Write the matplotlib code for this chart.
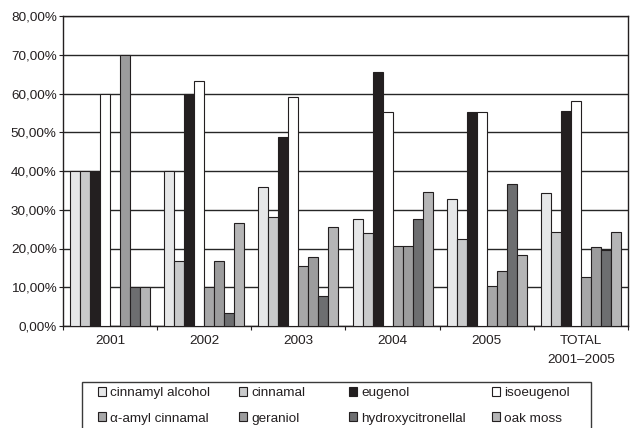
import matplotlib
matplotlib.use("Agg")
import matplotlib.pyplot as plt
import numpy as np
from matplotlib.patches import Rectangle
from matplotlib.ticker import FuncFormatter, MultipleLocator

plt.rcParams['font.family'] = ['Liberation Sans', 'DejaVu Sans']

categories = ['2001', '2002', '2003', '2004', '2005', 'TOTAL\n2001\u20132005']
series_names = ['cinnamyl alcohol', 'cinnamal', 'eugenol', 'isoeugenol',
                '\u03b1-amyl cinnamal', 'geraniol', 'hydroxycitronellal', 'oak moss']
cinnamyl_alcohol = [40.0, 40.0, 35.9, 27.6, 32.7, 34.4]
cinnamal = [40.0, 16.7, 28.2, 24.1, 22.4, 24.2]
eugenol = [40.0, 60.0, 48.7, 65.5, 55.1, 55.4]
isoeugenol = [60.0, 63.3, 59.0, 55.2, 55.1, 58.0]
amyl_cinnamal = [0.0, 10.0, 15.4, 20.7, 10.2, 12.7]
geraniol = [70.0, 16.7, 17.9, 20.7, 14.3, 20.4]
hydroxycitronellal = [10.0, 3.3, 7.7, 27.6, 36.7, 19.7]
oak_moss = [10.0, 26.7, 25.6, 34.5, 18.4, 24.2]
series_values = [cinnamyl_alcohol, cinnamal, eugenol, isoeugenol,
                 amyl_cinnamal, geraniol, hydroxycitronellal, oak_moss]
colors = ['#e6e7e8', '#c9cacb', '#231f20', '#ffffff',
          '#a7a7a8', '#9c9c9d', '#6d6e70', '#b5b5b6']

W, H = 632, 428
fig = plt.figure(figsize=(W / 100, H / 100), dpi=100)
ax = fig.add_axes([63 / W, 1 - 326 / H, (628 - 63) / W, (326 - 16) / H])

x = np.arange(len(categories))
bw = 0.106
handles = []
for j, (name, vals, c) in enumerate(zip(series_names, series_values, colors)):
    b = ax.bar(x + (j - 3.5) * bw, vals, width=bw, color=c,
               edgecolor='#231f20', linewidth=0.8, label=name, zorder=3)
    handles.append(b)

ax.set_xlim(-0.5, len(categories) - 0.5)
ax.set_ylim(0, 80)
ax.yaxis.set_major_locator(MultipleLocator(10))
ax.yaxis.set_major_formatter(FuncFormatter(lambda v, p: f"{v:.2f}%".replace('.', ',')))
ax.grid(axis='y', color='#262626', linewidth=1.0, zorder=0)
ax.set_axisbelow(True)

ax.set_xticks(x)
ax.set_xticklabels(categories)
ax.set_xticks(np.arange(-0.5, len(categories)), minor=True)
ax.tick_params(axis='x', which='major', length=0, pad=6.5, labelsize=9.7, colors='#231f20')
ax.tick_params(axis='x', which='minor', length=3, width=0.8, direction='out', color='#231f20')
ax.tick_params(axis='y', which='major', length=3, width=0.8, pad=1.5, labelsize=9.7, colors='#231f20')
for t in ax.get_xticklabels():
    t.set_linespacing(1.75)
    t.set_verticalalignment('top')

for s in ax.spines.values():
    s.set_color('#231f20')
    s.set_linewidth(1.0)

# legend: four columns placed individually
col_x = [98, 239, 349, 492]
top = 1 - 387 / H
for k in range(4):
    fig.legend(handles=[handles[k], handles[k + 4]],
               labels=[series_names[k], series_names[k + 4]],
               loc='upper left', bbox_to_anchor=(col_x[k] / W, top),
               bbox_transform=fig.transFigure, frameon=False,
               borderpad=0, borderaxespad=0, handlelength=0.6, handleheight=0.6,
               handletextpad=0.3, labelspacing=1.0, fontsize=9.7,
               labelcolor='#231f20')

fig.patches.append(Rectangle((82 / W, -0.05), (591 - 82) / W, (1 - 382 / H) + 0.05,
                             transform=fig.transFigure, fill=False,
                             edgecolor='#3a3a3a', linewidth=1.0))

fig.savefig('out.png', dpi=100)
